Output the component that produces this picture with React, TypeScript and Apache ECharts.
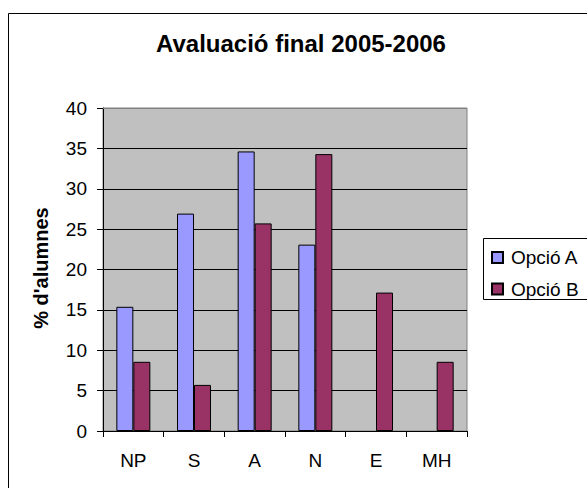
import React, { useEffect, useRef } from "react";
import * as echarts from "echarts";

const categories = ["NP", "S", "A", "N", "E", "MH"];
const opcioA = [15.38, 26.92, 34.62, 23.08, 0, 0];
const opcioB = [8.57, 5.71, 25.71, 34.29, 17.14, 8.57];
const seriesNames = ["Opció A", "Opció B"];
const titleText = "Avaluació final 2005-2006";
const yAxisTitle = "% d'alumnes";

const FONT = "'Liberation Sans', Arial, sans-serif";

const toItems = (arr: number[]) =>
  arr.map((v) => (v === 0 ? { value: v, itemStyle: { borderWidth: 0 } } : v));

export default function App() {
  const ref = useRef<HTMLDivElement>(null);
  useEffect(() => {
    if (!ref.current) return;
    const chart = echarts.init(ref.current, null, { renderer: "svg" });
    chart.setOption({
      animation: false,
      backgroundColor: "#ffffff",
      textStyle: { fontFamily: FONT },
      grid: {
        left: 103,
        top: 108,
        right: 120,
        bottom: 57,
        show: true,
        backgroundColor: "#C0C0C0",
        borderColor: "#808080",
        borderWidth: 1,
      },
      legend: {
        orient: "vertical",
        left: 491,
        top: 247.5,
        padding: 0,
        itemWidth: 11,
        itemHeight: 11,
        itemGap: 11.5,
        icon: "rect",
        data: seriesNames,
        textStyle: {
          fontFamily: FONT,
          fontSize: 19,
          lineHeight: 20,
          color: "#000",
          padding: [0, 0, 0, 3],
        },
      },
      xAxis: {
        type: "category",
        data: categories,
        boundaryGap: true,
        axisLine: { show: true, lineStyle: { color: "#000", width: 1 } },
        axisTick: { show: true, length: 6, alignWithLabel: false, lineStyle: { color: "#000" } },
        axisLabel: { color: "#000", fontSize: 19, fontFamily: FONT, margin: 20 },
        splitLine: { show: false },
      },
      yAxis: {
        type: "value",
        min: 0,
        max: 40,
        interval: 5,
        axisLine: { show: true, lineStyle: { color: "#000", width: 1 } },
        axisTick: { show: true, length: 6, lineStyle: { color: "#000" } },
        axisLabel: { color: "#000", fontSize: 19, fontFamily: FONT, margin: 16 },
        splitLine: { show: true, lineStyle: { color: "#000", width: 1 } },
      },
      series: [
        {
          name: seriesNames[0],
          type: "bar",
          data: toItems(opcioA),
          barWidth: 17,
          barGap: "0%",
          itemStyle: { color: "#9999FF", borderColor: "#000", borderWidth: 1 },
        },
        {
          name: seriesNames[1],
          type: "bar",
          data: toItems(opcioB),
          barWidth: 17,
          barGap: "0%",
          itemStyle: { color: "#993366", borderColor: "#000", borderWidth: 1 },
        },
      ],
      graphic: [
        {
          type: "rect",
          z: 0,
          silent: true,
          shape: { x: 8.5, y: 13.5, width: 600, height: 500 },
          style: { fill: "none", stroke: "#000", lineWidth: 1 },
        },
        {
          type: "line",
          z: 100,
          silent: true,
          shape: { x1: 103, y1: 108.5, x2: 467, y2: 108.5 },
          style: { stroke: "#808080", lineWidth: 1 },
        },
        {
          type: "rect",
          z: 0,
          silent: true,
          shape: { x: 483.5, y: 238.5, width: 200, height: 61 },
          style: { fill: "#fff", stroke: "#000", lineWidth: 1 },
        },
        {
          type: "text",
          z: 100,
          x: 301,
          y: 43,
          style: {
            text: titleText,
            fontFamily: FONT,
            fontSize: 24,
            fontWeight: "bold",
            fill: "#000",
            textAlign: "center",
            textVerticalAlign: "middle",
          },
        },
        {
          type: "text",
          z: 100,
          x: 41,
          y: 268,
          rotation: Math.PI / 2,
          style: {
            text: yAxisTitle,
            fontFamily: FONT,
            fontSize: 20,
            fontWeight: "bold",
            fill: "#000",
            textAlign: "center",
            textVerticalAlign: "middle",
          },
        },
      ],
    });
    return () => chart.dispose();
  }, []);
  return (
    <div
      ref={ref}
      style={{ position: "absolute", left: 0, top: 0, width: 587, height: 488 }}
    />
  );
}
